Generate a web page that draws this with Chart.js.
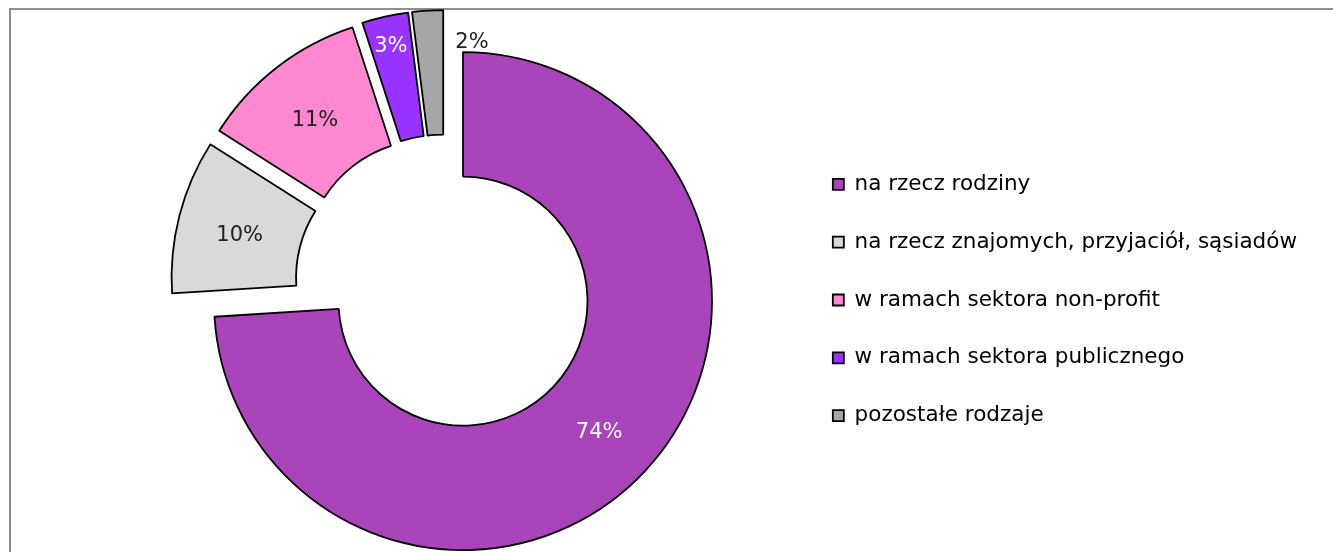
<!DOCTYPE html>
<html>
<head>
<meta charset="utf-8">
<script src="https://cdn.jsdelivr.net/npm/chart.js@4/dist/chart.umd.min.js"></script>
<style>
body{margin:0;background:#fff;}
#wrap{position:relative;width:1333px;height:552px;overflow:hidden;}
#frame{position:absolute;left:9px;top:8px;width:1400px;height:600px;border-left:2px solid #8e8e8e;border-top:2px solid #8e8e8e;}
#mycanvas{position:absolute;left:0;top:0;}
</style>
</head>
<body>
<div id="wrap">
	<div id="frame"></div>
	<canvas id="mycanvas" width="1333" height="552"></canvas>
</div>
<script>
var categories = [
	'na rzecz rodziny',
	'na rzecz znajomych, przyjaciół, sąsiadów',
	'w ramach sektora non-profit',
	'w ramach sektora publicznego',
	'pozostałe rodzaje'
];
var shares = [74, 10, 11, 3, 2];
var percentLabels = shares.map(function(v){ return v + '%'; });

var sliceColors = ['#AA44BB', '#D9D9D9', '#FF88D0', '#9933FF', '#A6A6A6'];
var labelColors = ['#ffffff', '#222222', '#222222', '#ffffff', '#222222'];

// every slice is pulled out of the common centre by the same distance
var explodePlugin = {
	id: 'explode',
	afterDatasetUpdate: function(chart, args){
		var arcs = chart.getDatasetMeta(args.index).data;
		arcs.forEach(function(arc){
			var mid = (arc.startAngle + arc.endAngle) / 2;
			arc.x += Math.cos(mid) * 25;
			arc.y += Math.sin(mid) * 25;
		});
	}
};

var labelPlugin = {
	id: 'sliceLabels',
	afterDatasetsDraw: function(chart){
		var ctx = chart.ctx;
		var arcs = chart.getDatasetMeta(0).data;
		ctx.save();
		ctx.font = '21px "DejaVu Sans"';
		ctx.textAlign = 'center';
		ctx.textBaseline = 'middle';
		arcs.forEach(function(arc, i){
			var p;
			if(shares[i] >= 5){
				p = arc.getCenterPoint();
			} else {
				var a = (arc.startAngle + arc.endAngle) / 2;
				var r = arc.outerRadius - 27;
				if(i === arcs.length - 1){
					// last thin slice: label sits beside it, outside
					a = arc.endAngle + 0.13;
				}
				p = {x: arc.x + Math.cos(a) * r, y: arc.y + Math.sin(a) * r};
			}
			ctx.fillStyle = labelColors[i];
			ctx.fillText(percentLabels[i], p.x, p.y + 4);
		});
		ctx.restore();
	}
};

var chartdata = {
	labels: categories,
	datasets: [
		{
			data: shares,
			backgroundColor: sliceColors,
			borderColor: '#000000',
			borderWidth: 1.8
		}
	]
};

var ctx = document.getElementById('mycanvas');
var donut = new Chart(ctx, {
	type: 'doughnut',
	data: chartdata,
	plugins: [explodePlugin, labelPlugin],
	options: {
		responsive: false,
		animation: false,
		radius: 249,
		cutout: '50%',
		layout: {padding: {left: 93, right: 26, top: 16, bottom: 0}},
		plugins: {
			legend: {
				position: 'right',
				align: 'center',
				title: {display: true, text: ' ', font: {size: 10}, padding: 10},
				labels: {
					boxWidth: 11,
					boxHeight: 11,
					padding: 36.3,
					color: '#000000',
					font: {family: 'DejaVu Sans', size: 21.5}
				}
			},
			tooltip: {enabled: false}
		}
	}
});
</script>
</body>
</html>
